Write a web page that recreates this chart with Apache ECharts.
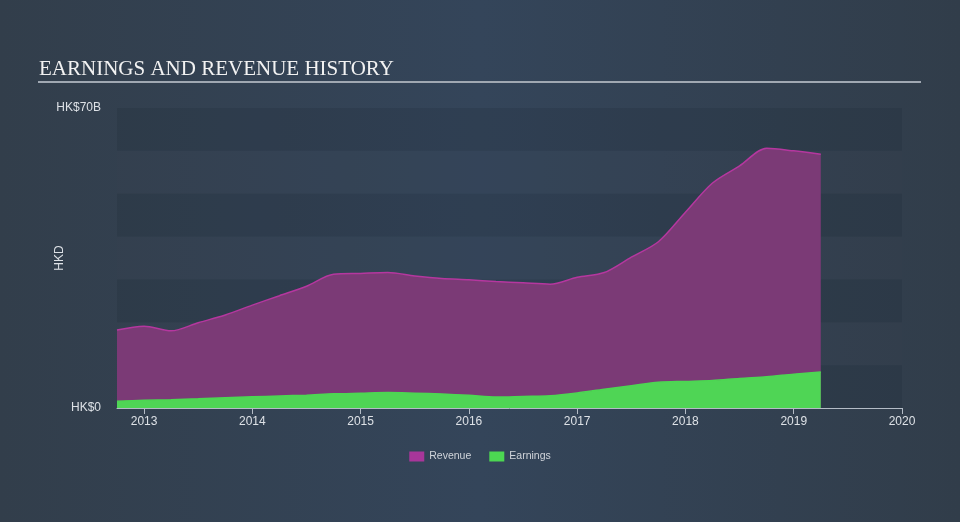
<!DOCTYPE html>
<html>
<head>
<meta charset="utf-8">
<script src="https://cdn.jsdelivr.net/npm/echarts@6/dist/echarts.min.js"></script>
<style>
html,body{margin:0;padding:0;}
#c{width:960px;height:522px;}
</style>
</head>
<body>
<div id="c"></div>
<script>
var quarters = [2012.75,2013.0,2013.25,2013.5,2013.75,2014.0,2014.25,2014.5,2014.75,2015.0,2015.25,2015.5,2015.75,2016.0,2016.25,2016.5,2016.75,2017.0,2017.25,2017.5,2017.75,2018.0,2018.25,2018.5,2018.75,2019.0,2019.25];
var revenue = [18.2,19.1,18.0,19.9,21.7,24.0,26.2,28.4,31.2,31.4,31.6,30.8,30.2,29.9,29.5,29.2,28.9,30.5,31.6,35.2,38.8,45.7,52.5,56.5,60.6,60.0,59.2];
var earnings = [1.6,1.8,1.95,2.15,2.4,2.6,2.8,3.0,3.3,3.45,3.6,3.45,3.25,2.95,2.55,2.7,2.85,3.5,4.4,5.2,6.0,6.2,6.4,6.9,7.3,7.9,8.4];
var yearTicks = [2013,2014,2015,2016,2017,2018,2019,2020];

function pairs(xs, ys){ return xs.map(function(x,i){return [x, ys[i]];}); }

var chart = echarts.init(document.getElementById('c'));
chart.setOption({
  backgroundColor: {
    type: 'linear', x: 0, y: 0, x2: 1, y2: 0,
    colorStops: [
      {offset: 0, color: '#323e4b'},
      {offset: 0.5, color: '#34455a'},
      {offset: 1, color: '#313d4a'}
    ]
  },
  title: {
    text: 'EARNINGS AND REVENUE HISTORY',
    left: 34, top: 54,
    textStyle: {fontFamily: 'Liberation Serif', fontWeight: 'normal', fontSize: 21, color: '#f2f2f2'}
  },
  graphic: [{
    type: 'line',
    shape: {x1: 38, y1: 82, x2: 921, y2: 82},
    style: {stroke: '#a0a8b2', lineWidth: 2}
  }],
  legend: {
    bottom: 55, left: 'center',
    icon: 'rect', itemWidth: 15, itemHeight: 10, itemGap: 18, itemStyle: {borderWidth: 0},
    textStyle: {color: '#d0d4da', fontSize: 10.5, fontFamily: 'Liberation Sans'},
    data: [
      {name: 'Revenue', itemStyle: {color: '#a8369a'}},
      {name: 'Earnings', itemStyle: {color: '#4cd752'}}
    ]
  },
  grid: {left: 117, right: 58, top: 108, bottom: 114},
  xAxis: {
    type: 'value', min: 2012.75, max: 2020,
    splitLine: {show: false},
    axisLine: {lineStyle: {color: '#b4bcc6', width: 1}},
    axisTick: {show: true, customValues: yearTicks, length: 6, lineStyle: {color: '#b4bcc6'}},
    axisLabel: {customValues: yearTicks, color: '#dde1e6', fontSize: 12, fontFamily: 'Liberation Sans', margin: 8,
      formatter: function(v){ return String(Math.round(v)); }}
  },
  yAxis: {
    type: 'value', min: 0, max: 70, interval: 10,
    name: 'HKD', nameLocation: 'middle', nameGap: 51, nameRotate: 90, nameMoveOverlap: false,
    nameTextStyle: {color: '#dde1e6', fontSize: 12, fontFamily: 'Liberation Sans'},
    axisLine: {show: false}, axisTick: {show: false},
    splitLine: {show: false},
    splitArea: {show: true, areaStyle: {color: ['rgba(25,35,48,0.17)', 'rgba(60,75,90,0.06)']}},
    axisLabel: {color: '#dde1e6', fontSize: 12, fontFamily: 'Liberation Sans', margin: 16,
      formatter: function(v){ return v === 0 ? 'HK$0' : (v === 70 ? 'HK$70B' : ''); }}
  },
  series: [
    {
      name: 'Revenue', type: 'line', smooth: 0.3, showSymbol: false,
      data: pairs(quarters, revenue),
      lineStyle: {color: '#b5379f', width: 1.5},
      itemStyle: {color: '#a8369a'},
      areaStyle: {color: '#7b3a76', opacity: 1}
    },
    {
      name: 'Earnings', type: 'line', smooth: 0.3, showSymbol: false,
      data: pairs(quarters, earnings),
      lineStyle: {color: '#4cd752', width: 1.5},
      itemStyle: {color: '#4cd752'},
      areaStyle: {color: '#4fd555', opacity: 1}
    }
  ]
});
</script>
</body>
</html>
